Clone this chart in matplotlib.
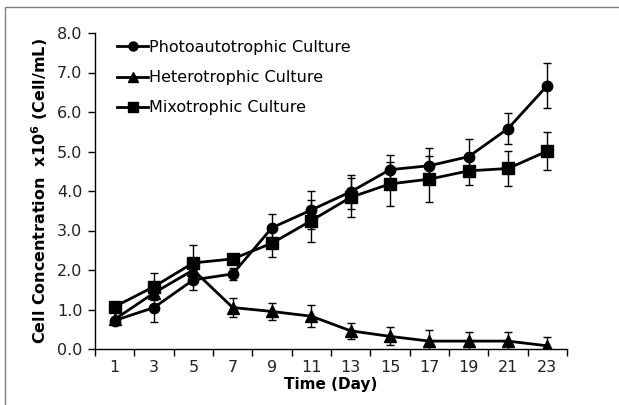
import numpy as np
import matplotlib
matplotlib.use("Agg")
import matplotlib.pyplot as plt
from matplotlib.patches import Rectangle
from matplotlib.lines import Line2D

# data
days = [1, 3, 5, 7, 9, 11, 13, 15, 17, 19, 21, 23]
photo = [0.72, 1.05, 1.75, 1.90, 3.07, 3.52, 3.98, 4.54, 4.64, 4.87, 5.58, 6.67]
photo_err = [0.05, 0.37, 0.26, 0.15, 0.36, 0.48, 0.43, 0.37, 0.46, 0.45, 0.40, 0.56]
hetero = [0.75, 1.42, 2.00, 1.05, 0.95, 0.83, 0.46, 0.32, 0.20, 0.20, 0.20, 0.08]
hetero_err = [0.05, 0.12, 0.10, 0.25, 0.22, 0.28, 0.21, 0.23, 0.28, 0.24, 0.24, 0.22]
mixo = [1.07, 1.58, 2.18, 2.28, 2.68, 3.25, 3.84, 4.18, 4.30, 4.51, 4.57, 5.01]
mixo_err = [0.05, 0.35, 0.45, 0.05, 0.36, 0.53, 0.50, 0.56, 0.58, 0.36, 0.45, 0.48]

series = [
    ("Photoautotrophic Culture", photo, photo_err, "o", 7.5),
    ("Heterotrophic Culture", hetero, hetero_err, "^", 8),
    ("Mixotrophic Culture", mixo, mixo_err, "s", 8),
]

plt.rcParams['font.family'] = ['DejaVu Sans']

fig = plt.figure(figsize=(6.19, 4.05), dpi=100)
ax = fig.add_axes([95/619, 1-349/405, (567-95)/619, (349-33)/405])

pos = np.arange(1, len(days)+1)
handles = []
for name, vals, err, mk, ms in series:
    ax.errorbar(pos, vals, yerr=err, color="black", marker=mk, markersize=ms,
                linewidth=2, elinewidth=1, ecolor="black", capsize=3, capthick=1)
    handles.append(Line2D([], [], color="black", marker=mk, markersize=ms - 1,
                          linewidth=2, label=name))

ax.set_xlim(0.5, len(days)+0.5)
ax.set_ylim(0, 8)
ax.set_yticks(np.arange(0, 9, 1))
ax.set_yticklabels(["%.1f" % v for v in np.arange(0, 9, 1)], fontsize=11.5, color="#222222")
ax.set_xticks(np.arange(0.5, len(days)+1, 1))
ax.set_xticklabels([])
ax.set_xticks(pos, minor=True)
ax.set_xticklabels([str(d) for d in days], minor=True, fontsize=11.5, color="#222222")
ax.tick_params(axis="x", which="major", direction="out", length=5, width=1)
ax.tick_params(axis="x", which="minor", length=0, pad=8)
ax.tick_params(axis="y", direction="out", length=5, width=1, pad=4)

for s in ["top", "right"]:
    ax.spines[s].set_visible(False)
for s in ["left", "bottom"]:
    ax.spines[s].set_linewidth(1)

ax.set_xlabel("Time (Day)", fontsize=11, fontweight="bold", labelpad=1)
ax.set_ylabel("Cell Concentration  x10$^\\mathbf{6}$ (Cell/mL)", fontsize=11.5,
              fontweight="bold", labelpad=5)

ax.legend(handles=handles, loc="upper left", bbox_to_anchor=(0.034, 0.998), frameon=False,
          fontsize=11.5, handlelength=1.9, handletextpad=0.1, labelspacing=0.95,
          borderaxespad=0)

# outer frame (only top and left edges fall inside the picture)
fig.patches.append(Rectangle((5/619, -0.1), 1.2, 1.1 - 7/405, transform=fig.transFigure,
                             fill=False, edgecolor="#7f7f7f", linewidth=1))

fig.savefig("out.png", dpi=100)
